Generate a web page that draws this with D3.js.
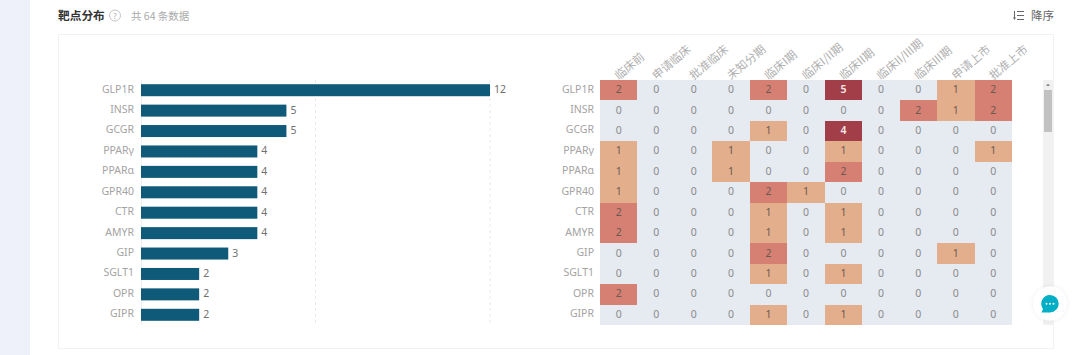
<!DOCTYPE html>
<html>
<head>
<meta charset="utf-8">
<script src="https://cdnjs.cloudflare.com/ajax/libs/d3/7.8.5/d3.min.js"></script>
<style>
    html, body { margin: 0; padding: 0; background: #fff; overflow: hidden; }
    text { font-family: "Noto Sans CJK SC", "Noto Sans", sans-serif; }
</style>
</head>
<body>
<svg id="chart" width="1080" height="355"></svg>
<script>
const targets = ["GLP1R", "INSR", "GCGR", "PPARγ", "PPARα", "GPR40", "CTR", "AMYR", "GIP", "SGLT1", "OPR", "GIPR"];
const counts = [12, 5, 5, 4, 4, 4, 4, 4, 3, 2, 2, 2];
const phases = ["临床前", "申请临床", "批准临床", "未知分期", "临床I期", "临床I/II期", "临床II期", "临床II/III期", "临床III期", "申请上市", "批准上市"];
const matrix = [
    [2, 0, 0, 0, 2, 0, 5, 0, 0, 1, 2],
    [0, 0, 0, 0, 0, 0, 0, 0, 2, 1, 2],
    [0, 0, 0, 0, 1, 0, 4, 0, 0, 0, 0],
    [1, 0, 0, 1, 0, 0, 1, 0, 0, 0, 1],
    [1, 0, 0, 1, 0, 0, 2, 0, 0, 0, 0],
    [1, 0, 0, 0, 2, 1, 0, 0, 0, 0, 0],
    [2, 0, 0, 0, 1, 0, 1, 0, 0, 0, 0],
    [2, 0, 0, 0, 1, 0, 1, 0, 0, 0, 0],
    [0, 0, 0, 0, 2, 0, 0, 0, 0, 1, 0],
    [0, 0, 0, 0, 1, 0, 1, 0, 0, 0, 0],
    [2, 0, 0, 0, 0, 0, 0, 0, 0, 0, 0],
    [0, 0, 0, 0, 1, 0, 1, 0, 0, 0, 0]
];

const svg = d3.select("#chart");
const top0 = 80, bottom0 = 325;

// page frame
svg.append("rect").attr("width", 30).attr("height", 355).attr("fill", "#eff1fa");
svg.append("rect").attr("x", 58.5).attr("y", 34.5).attr("width", 995).attr("height", 314)
    .attr("fill", "#fff").attr("stroke", "#f2f2f2");

// header
svg.append("text").attr("x", 58).attr("y", 20).attr("font-size", 11.7).attr("font-weight", 700)
    .attr("fill", "#333").text("靶点分布");
svg.append("circle").attr("cx", 115).attr("cy", 15.5).attr("r", 5.5)
    .attr("fill", "none").attr("stroke", "#c4c4c4");
svg.append("text").attr("x", 115).attr("y", 18.5).attr("font-size", 8).attr("text-anchor", "middle")
    .attr("fill", "#aaa").text("?");
svg.append("text").attr("x", 131).attr("y", 20).attr("font-size", 10.5).attr("fill", "#aaa").text("共 64 条数据");
svg.append("text").attr("x", 1031).attr("y", 20).attr("font-size", 11.5).attr("fill", "#666").text("降序");
const sortIcon = svg.append("g").attr("stroke", "#666").attr("stroke-width", 1);
sortIcon.append("line").attr("x1", 1014.5).attr("x2", 1014.5).attr("y1", 11).attr("y2", 19);
sortIcon.append("path").attr("d", "M1013 17.5 L1014.5 20 L1016 17.5 Z").attr("fill", "#666").attr("stroke", "none");
sortIcon.selectAll("line.s").data([11.5, 15.5, 19.5]).join("line").attr("class", "s")
    .attr("x1", 1017).attr("x2", 1024).attr("y1", d => d).attr("y2", d => d);

// bar chart
const x = d3.scaleLinear().domain([0, 12]).range([141, 490]);
const y = d3.scaleBand().domain(targets).range([top0, bottom0]);

const barG = svg.append("g");
barG.selectAll("line.grid").data([6, 12]).join("line").attr("class", "grid")
    .attr("x1", d => x(d)).attr("x2", d => x(d)).attr("y1", top0).attr("y2", bottom0)
    .attr("stroke", "#e9e9e9").attr("stroke-dasharray", "3,3");

const yAxis = barG.append("g").attr("transform", "translate(141,-1)")
    .call(d3.axisLeft(y).tickSize(0).tickPadding(7));
yAxis.select(".domain").attr("stroke", "#eee");
yAxis.selectAll("text").attr("font-size", 10.5).attr("fill", "#a3a3a3")
    .style("font-family", '"Noto Sans", sans-serif');

barG.selectAll("rect.bar").data(counts).join("rect").attr("class", "bar")
    .attr("x", x(0))
    .attr("y", (d, i) => y(targets[i]) + y.bandwidth() / 2 - 6)
    .attr("width", d => x(d) - x(0))
    .attr("height", 12)
    .attr("fill", "#0e5a78");

barG.selectAll("text.val").data(counts).join("text").attr("class", "val")
    .attr("x", d => x(d) + 4)
    .attr("y", (d, i) => y(targets[i]) + y.bandwidth() / 2 + 3)
    .attr("font-size", 10.5).attr("fill", "#707070")
    .style("font-family", '"Noto Sans", sans-serif')
    .text(d => d);

// heatmap
const hx = d3.scaleBand().domain(phases).range([600, 1012]);
const hy = d3.scaleBand().domain(targets).range([top0, bottom0]);
const color = d3.scaleThreshold().domain([1, 2, 3]).range(["#e6eaf1", "#e3ae8b", "#d58072", "#a23e48"]);

const cells = [];
matrix.forEach((row, r) => row.forEach((v, c) => cells.push({target: targets[r], phase: phases[c], v})));

const heat = svg.append("g");
heat.selectAll("rect").data(cells).join("rect")
    .attr("x", d => hx(d.phase))
    .attr("y", d => hy(d.target))
    .attr("width", hx.bandwidth())
    .attr("height", hy.bandwidth())
    .attr("shape-rendering", "crispEdges")
    .attr("fill", d => color(d.v));
heat.selectAll("text").data(cells).join("text")
    .attr("x", d => hx(d.phase) + hx.bandwidth() / 2)
    .attr("y", d => hy(d.target) + hy.bandwidth() / 2 + 3)
    .attr("text-anchor", "middle")
    .attr("font-size", 10.5)
    .style("font-family", '"Noto Sans", sans-serif')
    .attr("font-weight", d => d.v > 3 ? 600 : 400)
    .attr("fill", d => d.v > 3 ? "#f5e8e8" : d.v > 0 ? "#6b5a52" : "#8a8a8a")
    .text(d => d.v);

const hyAxis = svg.append("g").attr("transform", "translate(600,-1)")
    .call(d3.axisLeft(hy).tickSize(0).tickPadding(6));
hyAxis.select(".domain").remove();
hyAxis.selectAll("text").attr("font-size", 10.5).attr("fill", "#a3a3a3")
    .style("font-family", '"Noto Sans", sans-serif');

const hxAxis = svg.append("g").attr("transform", `translate(0,${top0})`)
    .call(d3.axisTop(hx).tickSize(2).tickPadding(4));
hxAxis.select(".domain").remove();
hxAxis.selectAll("line").attr("stroke", "#eee");
hxAxis.selectAll("text")
    .attr("font-size", 11.5).attr("fill", "#b0b0b0")
    .attr("text-anchor", "start")
    .attr("transform", "rotate(-40)")
    .attr("dx", "0").attr("dy", "0.55em");

// scrollbar
svg.append("rect").attr("x", 1043).attr("y", 80).attr("width", 10).attr("height", 245).attr("fill", "#f1f1f1");
svg.append("rect").attr("x", 1044).attr("y", 90).attr("width", 8).attr("height", 42).attr("fill", "#c1c1c1");
svg.append("path").attr("d", "M1046 86 L1048 83.5 L1050 86 Z").attr("fill", "#888");

// chat button
const defs = svg.append("defs");
const blur = defs.append("filter").attr("id", "sh").attr("x", "-50%").attr("y", "-50%").attr("width", "200%").attr("height", "200%");
blur.append("feDropShadow").attr("dx", 0).attr("dy", 0).attr("stdDeviation", 2).attr("flood-color", "#000").attr("flood-opacity", 0.08);
svg.append("circle").attr("cx", 1050).attr("cy", 303.5).attr("r", 17).attr("fill", "#fff").attr("filter", "url(#sh)");
svg.append("path").attr("d", "M1050 295 a8.7 8.7 0 1 1 0 17.4 l-8.5 0 l1.5 -3.5 a8.7 8.7 0 0 1 7 -13.9 Z").attr("fill", "#00afc6");
svg.selectAll("circle.dot").data([-3.5, 0, 3.5]).join("circle").attr("class", "dot")
    .attr("cx", d => 1050 + d).attr("cy", 303.7).attr("r", 1).attr("fill", "#fff");
</script>
</body>
</html>
